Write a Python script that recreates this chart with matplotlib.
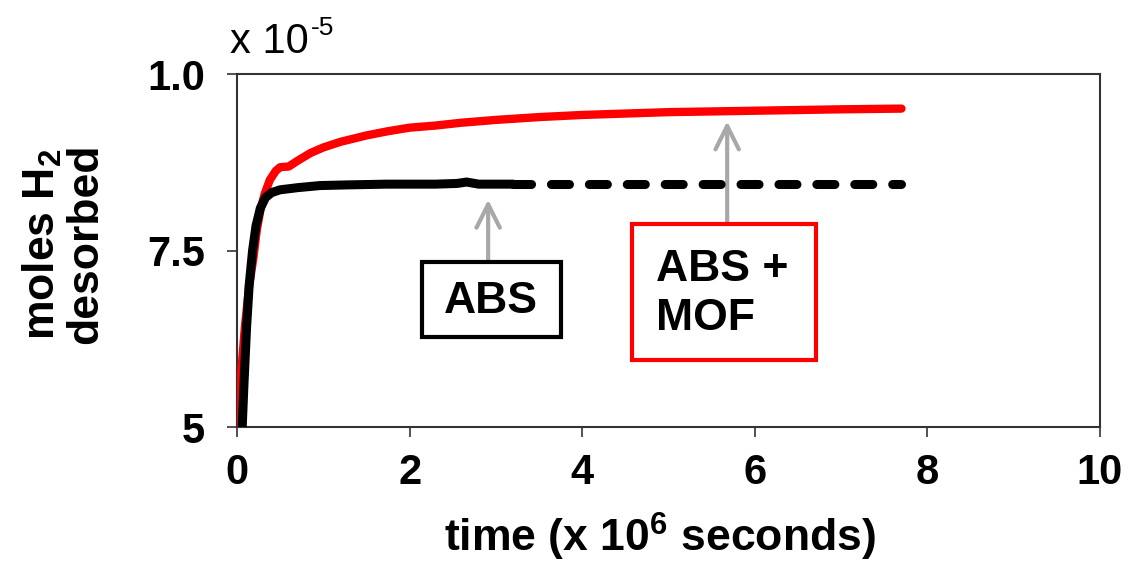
import matplotlib

matplotlib.use('Agg')
import matplotlib.pyplot as plt
from matplotlib.patches import Rectangle

# time in 1e6 s, moles H2 in 1e-5
T_MOF = [0.0, 0.05, 0.09, 0.14, 0.19, 0.23, 0.27, 0.32, 0.38, 0.45, 0.50,
         0.60, 0.70, 0.85, 1.0, 1.2, 1.5, 1.75, 2.0, 2.3, 2.6, 3.0, 3.5,
         4.0, 4.5, 5.0, 6.0, 7.0, 7.7]
H2_MOF = [5.0, 5.8, 6.4, 7.0, 7.4, 7.8, 8.07, 8.3, 8.5, 8.63, 8.68,
          8.69, 8.77, 8.88, 8.96, 9.04, 9.13, 9.19, 9.24, 9.27, 9.31, 9.35, 9.39,
          9.42, 9.44, 9.46, 9.48, 9.50, 9.51]

T_ABS = [0.06, 0.08, 0.11, 0.14, 0.18, 0.22, 0.27, 0.33, 0.40, 0.50, 0.70,
         0.96, 1.3, 1.74, 2.3, 2.55, 2.66, 2.8, 3.2]
H2_ABS = [5.0, 5.6, 6.4, 7.0, 7.5, 7.85, 8.1, 8.25, 8.32, 8.36, 8.39,
          8.42, 8.43, 8.44, 8.44, 8.45, 8.47, 8.44, 8.44]
T_ABS_EXT = [3.2, 7.7]
H2_ABS_EXT = [8.44, 8.44]

X_TICKS = [0, 2, 4, 6, 8, 10]
Y_TICKS = [5, 7.5, 10]
Y_TICK_LABELS = ['5', '7.5', '1.0']

FONT = 'Liberation Sans'
RED = '#ff0000'
ARROW = '#a8a8a8'
SPINE = '#333333'

plt.rcParams['font.family'] = FONT
plt.rcParams['mathtext.fontset'] = 'custom'
plt.rcParams['mathtext.rm'] = FONT
plt.rcParams['mathtext.bf'] = FONT + ':bold'

fig = plt.figure(figsize=(11.32, 5.62), dpi=100)
ax = fig.add_axes([0.2094, 0.2402, 0.7623, 0.6281])

ax.plot(T_MOF, H2_MOF, color=RED, lw=6, solid_capstyle='round',
        solid_joinstyle='round', zorder=3)
ax.plot(T_ABS, H2_ABS, color='black', lw=6.5, solid_capstyle='round',
        solid_joinstyle='round', zorder=4)
ax.plot(T_ABS_EXT, H2_ABS_EXT, color='black', lw=6.5, ls=(0, (2.0, 2.2)),
        dash_capstyle='round', zorder=4)

ax.set_xlim(0, 10)
ax.set_ylim(5, 10)
ax.set_xticks(X_TICKS)
ax.set_yticks(Y_TICKS)
ax.set_yticklabels(Y_TICK_LABELS)
ax.tick_params(direction='out', length=7, width=1.2, color=SPINE,
               labelsize=30)
ax.tick_params(axis='x', pad=12)
ax.tick_params(axis='y', pad=16)
for lab in ax.get_xticklabels() + ax.get_yticklabels():
    lab.set_fontweight('bold')
for sp in ax.spines.values():
    sp.set_linewidth(1.5)
    sp.set_color(SPINE)

fig.text(0.583, 0.044, 'time (x 10$^{\\mathbf{6}}$ seconds)', fontsize=32,
         fontweight='bold', ha='center', va='center')
fig.text(0.056, 0.566, 'moles H$_{\\mathbf{2}}$\ndesorbed', fontsize=32,
         fontweight='bold', ha='center', va='center', rotation=90,
         linespacing=1.02)

fig.text(0.203, 0.906, 'x 10', fontsize=30, ha='left', va='baseline')
fig.text(0.275, 0.937, '-5', fontsize=19, ha='left', va='baseline')

# arrows
arrow_kw = dict(arrowstyle='->,head_length=0.6,head_width=0.3',
                color=ARROW, lw=3, shrinkA=0, shrinkB=0, mutation_scale=28)
ax.annotate('', xy=(2.91, 8.22), xytext=(2.91, 7.36),
            arrowprops=arrow_kw, zorder=2)
ax.annotate('', xy=(5.68, 9.33), xytext=(5.68, 7.87),
            arrowprops=arrow_kw, zorder=2)

# label boxes
ax.add_patch(Rectangle((2.14, 6.27), 1.61, 1.07, fc='white', ec='black',
                       lw=3, zorder=5))
ax.text(2.94, 6.78, 'ABS', fontsize=32, fontweight='bold', ha='center',
        va='center', zorder=6)
ax.add_patch(Rectangle((4.58, 5.95), 2.13, 1.92, fc='white', ec=RED,
                       lw=3, zorder=5))
ax.text(4.86, 6.88, 'ABS +\nMOF', fontsize=32, fontweight='bold', ha='left',
        va='center', linespacing=1.25, zorder=6)

fig.savefig('out.png', dpi=100)
